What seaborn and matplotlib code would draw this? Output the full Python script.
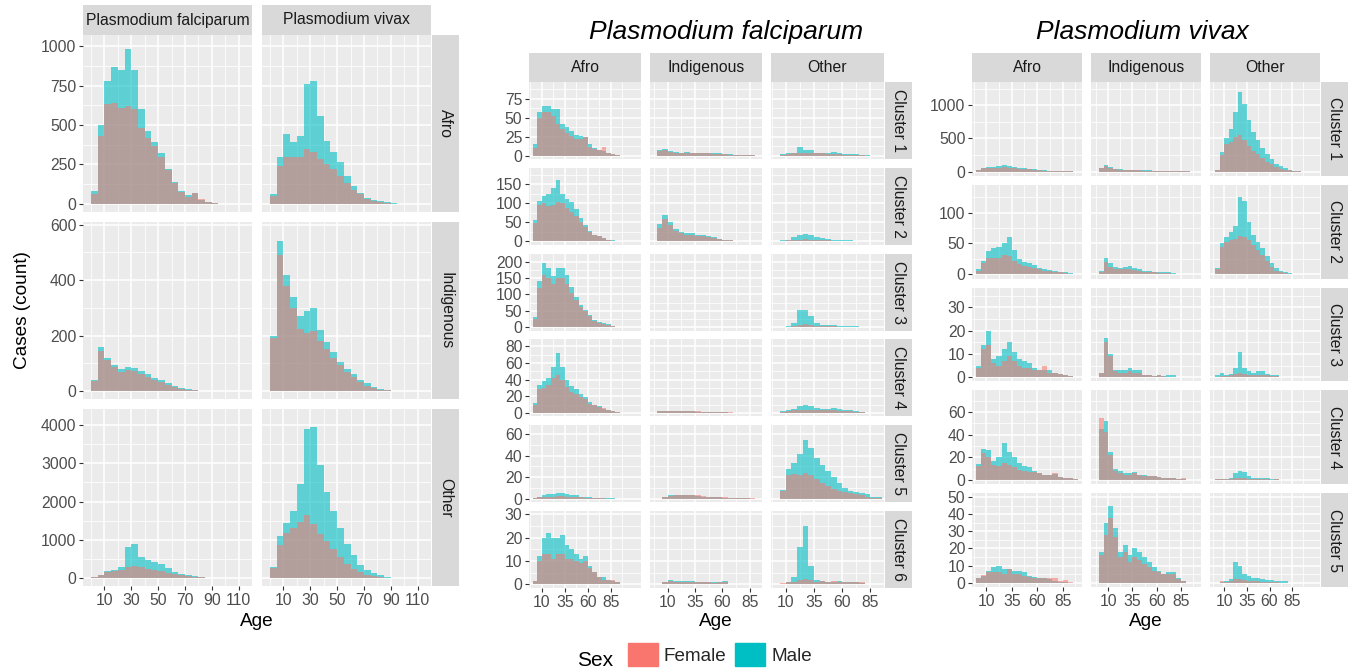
import pandas as pd
import seaborn as sns
import matplotlib.pyplot as plt
from matplotlib.patches import Patch

# start of each 5-year age group (bar heights = cases per single year of age)
age_start = [0, 5, 10, 15, 20, 25, 30, 35, 40, 45, 50, 55, 60, 65, 70, 75, 80, 85, 90, 95, 100]
age_edges = age_start + [105]

species = ['Plasmodium falciparum', 'Plasmodium vivax']
ethnicity = ['Afro', 'Indigenous', 'Other']
pf_clusters = ['Cluster 1', 'Cluster 2', 'Cluster 3', 'Cluster 4', 'Cluster 5', 'Cluster 6']
pv_clusters = ['Cluster 1', 'Cluster 2', 'Cluster 3', 'Cluster 4', 'Cluster 5']
sexes = ['Female', 'Male']

# ---- left block: species x ethnicity ----
a_pf_afro_f = [60, 430, 630, 640, 610, 620, 600, 480, 420, 370, 300, 215, 135, 75, 45, 70, 30, 15, 5, 2]
a_pf_afro_m = [80, 500, 780, 870, 850, 980, 850, 600, 460, 390, 320, 220, 140, 80, 55, 70, 25, 10, 3, 1]
a_pv_afro_f = [50, 240, 300, 295, 300, 350, 330, 285, 255, 220, 175, 130, 90, 60, 32, 20, 12, 6, 2, 1]
a_pv_afro_m = [60, 300, 440, 390, 430, 760, 780, 560, 400, 330, 265, 180, 115, 72, 40, 27, 17, 10, 4, 1]
a_pf_ind_f = [35, 145, 110, 85, 70, 75, 72, 62, 52, 40, 32, 22, 15, 8, 5, 3, 1, 0.5]
a_pf_ind_m = [40, 160, 120, 95, 78, 85, 82, 72, 62, 48, 40, 28, 18, 10, 6, 3, 1, 0.5]
a_pv_ind_f = [190, 490, 380, 300, 225, 210, 215, 180, 150, 120, 95, 70, 52, 32, 18, 10, 4, 2, 1]
a_pv_ind_m = [200, 540, 420, 340, 270, 290, 300, 220, 175, 140, 105, 80, 62, 40, 28, 16, 7, 3, 1]
a_pf_oth_f = [15, 80, 160, 170, 210, 290, 320, 290, 230, 200, 170, 130, 100, 70, 45, 30, 18, 8, 3, 1]
a_pf_oth_m = [20, 90, 170, 200, 290, 820, 900, 560, 460, 420, 370, 250, 160, 110, 70, 45, 25, 12, 5, 2]
a_pv_oth_f = [260, 860, 1180, 1320, 1460, 1660, 1420, 1160, 980, 760, 550, 370, 240, 155, 90, 55, 30, 12, 5, 2]
a_pv_oth_m = [300, 1100, 1440, 1750, 2450, 3900, 3950, 2950, 2250, 1750, 1300, 900, 590, 350, 200, 125, 70, 30, 12, 4]

# ---- middle block: P. falciparum, cluster x ethnicity ----
b_c1_afro_f = [10, 50, 58, 58, 52, 42, 35, 30, 26, 22, 22, 24, 12, 9, 8, 12, 4, 2, 1]
b_c1_afro_m = [15, 58, 66, 65, 62, 62, 42, 38, 32, 27, 26, 24, 15, 10, 8, 6, 4, 2, 1]
b_c1_ind_f = [6, 7, 5, 4, 4, 4, 3, 4, 3, 3, 2, 2, 2, 1, 1, 0.5, 0.5, 0.5]
b_c1_ind_m = [8, 9, 6, 5, 4, 5, 4, 4, 4, 3, 3, 3, 2, 2, 1, 1, 1, 0.5]
b_c1_oth_f = [0, 1, 2, 3, 4, 4, 3, 3, 3, 2, 2, 2, 1, 1, 0.5, 0.5, 0]
b_c1_oth_m = [0, 2, 3, 4, 12, 8, 7, 4, 3, 3, 5, 3, 2, 2, 2, 1.5, 1]

b_c2_afro_f = [48, 95, 100, 92, 96, 104, 100, 88, 78, 66, 52, 38, 25, 16, 15, 10, 5, 2, 1]
b_c2_afro_m = [55, 105, 118, 125, 140, 160, 125, 112, 104, 85, 62, 44, 27, 17, 15, 10, 5, 3, 1]
b_c2_ind_f = [35, 58, 42, 26, 21, 18, 16, 15, 14, 12, 10, 6, 4, 3, 1, 1]
b_c2_ind_m = [45, 70, 50, 33, 25, 22, 21, 17, 16, 14, 11, 7, 5, 3, 2, 1]
b_c2_oth_f = [1, 2, 3, 4, 5, 6, 5, 4, 3, 3, 2, 2, 2, 1, 1, 0.5, 0]
b_c2_oth_m = [1, 3, 4, 11, 17, 20, 18, 12, 8, 7, 5, 4, 4, 3, 2, 1, 1]

b_c3_afro_f = [25, 120, 160, 150, 132, 150, 150, 132, 104, 82, 62, 48, 34, 20, 12, 10, 8, 4, 2]
b_c3_afro_m = [30, 140, 195, 180, 155, 180, 182, 160, 124, 93, 68, 53, 38, 23, 15, 12, 9, 4, 2]
b_c3_ind_f = [0, 2, 2, 2, 2, 2, 2, 2, 2, 2, 1.5, 1.5, 1.5, 1, 1, 1, 1, 1, 1]
b_c3_ind_m = [0, 2, 2, 2, 2, 2, 2, 2, 2, 2, 2, 1.5, 1.5, 1, 1, 1, 1, 1, 1]
b_c3_oth_f = [0, 1, 2, 4, 8, 9, 7, 4, 3, 3, 3, 2, 2, 2, 1, 1, 1, 0.5, 0.5]
b_c3_oth_m = [0, 2, 3, 12, 52, 52, 35, 12, 8, 6, 6, 5, 4, 3, 3, 2, 2, 1, 1]

b_c4_afro_f = [9, 29, 30, 34, 42, 46, 39, 31, 25, 23, 19, 17, 11, 9, 7, 6, 4, 2, 1]
b_c4_afro_m = [12, 33, 38, 42, 55, 72, 55, 40, 32, 29, 23, 19, 13, 9, 8, 5, 4, 2, 1]
b_c4_ind_f = [2.5, 2.5, 2.5, 2.5, 2.5, 2, 2, 2, 1.5, 1.5, 1.5, 1, 1, 1, 0.5, 0.5]
b_c4_ind_m = [2, 2, 2, 2, 2, 2, 2, 1.5, 1.5, 1.5, 1, 1, 1, 0.5, 0.5]
b_c4_oth_f = [0, 1, 2, 3, 4, 4, 4, 3, 3, 3, 3, 2, 2, 2, 1, 1]
b_c4_oth_m = [0, 2, 3, 5, 8, 10, 8, 6, 5, 5, 6, 5, 4, 3, 2, 1]

b_c5_afro_f = [1, 1.5, 2, 2, 2, 2.5, 2.5, 2, 2, 1.5, 1.5, 1, 1, 1, 0.5, 0.5]
b_c5_afro_m = [1, 2, 3, 4, 4, 5, 5, 4, 3, 3, 2, 2, 1.5, 1, 1, 1, 0.5, 0.5]
b_c5_ind_f = [0, 2, 2.5, 3, 3, 3, 3, 3, 2.5, 2, 2, 2, 1.5, 1, 0.5, 0.5, 0.5, 1]
b_c5_ind_m = [0, 2, 3, 3, 3, 3, 3, 2.5, 2, 2, 2, 1.5, 1, 1, 0.5, 0.5, 0.5]
b_c5_oth_f = [0, 7, 22, 23, 22, 24, 22, 18, 15, 12, 9, 7, 6, 5, 4, 3, 2, 1, 1]
b_c5_oth_m = [0, 8, 28, 33, 42, 55, 47, 38, 31, 26, 20, 15, 10, 7, 6, 5, 4, 2, 2]

b_c6_afro_f = [1.5, 10, 13, 13, 11, 13, 13, 11, 11, 10, 9, 10, 7, 5.5, 3, 2, 2, 2, 1]
b_c6_afro_m = [1.5, 12, 20, 22, 20, 20, 21, 17, 15, 13, 11, 12, 8, 5.5, 3, 3, 2, 1.5, 1]
b_c6_ind_f = [0, 1, 1.5, 1, 1, 1, 1, 1, 1, 1, 0.5, 1, 1]
b_c6_ind_m = [0, 1, 2, 1.5, 1.5, 1.5, 1.5, 1, 1, 1, 1, 1, 1.5]
b_c6_oth_f = [0, 0.5, 1, 1, 2, 2.5, 2, 1, 1.5, 1, 1.5, 1, 1, 1, 1, 1]
b_c6_oth_m = [0, 0, 1, 3, 16, 25, 8, 2, 1.5, 1, 1, 1.5, 1, 1, 1, 0.5]

# ---- right block: P. vivax, cluster x ethnicity ----
c_c1_afro_f = [25, 50, 55, 55, 60, 62, 60, 52, 45, 40, 32, 26, 20, 15, 10, 6, 4, 2, 1]
c_c1_afro_m = [30, 55, 65, 70, 85, 95, 90, 70, 58, 50, 40, 32, 24, 18, 12, 8, 5, 3, 1]
c_c1_ind_f = [55, 90, 55, 38, 28, 25, 23, 20, 18, 16, 14, 12, 10, 8, 6, 4, 2, 1, 1]
c_c1_ind_m = [60, 100, 65, 45, 35, 30, 28, 25, 22, 20, 18, 15, 12, 10, 8, 5, 3, 2, 1]
c_c1_oth_f = [25, 250, 410, 450, 520, 550, 470, 380, 310, 260, 200, 150, 110, 70, 45, 28, 18, 8, 4]
c_c1_oth_m = [30, 300, 500, 640, 900, 1200, 1020, 780, 600, 470, 360, 270, 190, 120, 80, 50, 28, 14, 6]

c_c2_afro_f = [6, 18, 26, 26, 26, 32, 30, 22, 17, 14, 12, 10, 8, 6, 5, 4, 3, 2, 1]
c_c2_afro_m = [8, 22, 38, 42, 45, 50, 60, 40, 25, 20, 18, 15, 11, 9, 7, 5, 4, 3, 2]
c_c2_ind_f = [4, 20, 12, 9, 8, 8, 8, 7, 6, 4, 4, 3, 2, 2, 2, 1, 1, 0.5]
c_c2_ind_m = [6, 26, 18, 12, 11, 12, 14, 10, 8, 6, 5, 4, 4, 3, 3, 2, 1, 1]
c_c2_oth_f = [8, 45, 52, 55, 58, 62, 60, 55, 48, 40, 32, 22, 12, 6, 4, 2, 1, 1, 0]
c_c2_oth_m = [10, 50, 60, 68, 78, 125, 118, 85, 64, 52, 42, 30, 18, 10, 6, 3, 2, 1, 1]

c_c3_afro_f = [4, 12, 14, 6, 5, 7, 9, 7, 5, 4, 4, 3, 3, 5, 2, 2, 1.5, 1, 0.5]
c_c3_afro_m = [5, 14, 20, 8, 9, 12, 15, 11, 8, 7, 6, 4, 3, 3, 3, 2, 1.5, 1, 0.5]
c_c3_ind_f = [2, 15, 9, 2.5, 2, 2, 2.5, 2, 2, 1, 1, 0.5, 1, 0.5]
c_c3_ind_m = [2, 17, 10, 3, 3, 3, 4, 3, 3, 1, 1, 0.5, 1, 0.5, 1, 1]
c_c3_oth_f = [0, 0.5, 0.5, 1, 1.5, 2, 1.5, 1, 1, 1, 1, 1, 0.5, 0.5]
c_c3_oth_m = [1, 2, 1, 1.5, 4, 11, 4, 2.5, 2, 2.5, 2.5, 1.5, 1, 1]

c_c4_afro_f = [12, 24, 20, 13, 12, 15, 13, 11, 9, 8, 7, 7, 6, 4, 4, 6, 2.5, 1.5, 1.5, 1]
c_c4_afro_m = [14, 27, 26, 17, 20, 33, 25, 20, 15, 12, 11, 8, 6, 4, 4, 5, 2.5, 1.5, 1.5, 1]
c_c4_ind_f = [55, 42, 22, 8, 6, 4.5, 4.5, 6, 4, 3.5, 3, 3, 2.5, 2, 2, 1.5, 1, 1.5]
c_c4_ind_m = [45, 52, 25, 10, 8, 6, 6, 7, 4, 4, 3, 3, 2.5, 2, 2, 1.5, 1, 1]
c_c4_oth_f = [0.5, 1, 0.5, 1, 1.5, 2, 1.5, 1, 1, 1, 0.5, 0.5, 0, 0.5]
c_c4_oth_m = [1, 1, 0.5, 2, 6, 8, 7, 3, 2, 2, 2, 1.5, 1, 1]

c_c5_afro_f = [3, 4.5, 6, 6, 6, 5, 8, 5, 5, 4, 3.5, 3, 2.5, 3, 3, 2.5, 1, 1.5, 0.5]
c_c5_afro_m = [3, 4, 7, 9, 10, 8, 8, 7, 7, 6, 4, 3.5, 2.5, 3, 2, 1, 0.5, 0.5]
c_c5_ind_f = [16, 28, 38, 27, 15, 18, 12, 15, 13, 11, 9, 7, 6, 5, 5, 5, 2, 1]
c_c5_ind_m = [18, 35, 45, 32, 18, 22, 16, 20, 18, 15, 12, 9, 7, 5, 6, 6, 3, 1]
c_c5_oth_f = [0, 1, 0.5, 1, 2, 2, 1.5, 1, 1, 1, 0.5, 0.5, 0.5, 0.5]
c_c5_oth_m = [0, 0.5, 1, 2, 12, 10, 5, 4, 3, 2.5, 2, 1.5, 1.5, 1, 1, 1]

FEMALE = '#F8766D'
MALE = '#00BFC4'

sns.set_theme(style='darkgrid', rc={'axes.facecolor': '#EBEBEB', 'grid.color': 'white',
                                    'figure.facecolor': 'white'})
plt.rcParams['font.family'] = ['Liberation Sans', 'DejaVu Sans']

W, H = 1353, 671
fig = plt.figure(figsize=(W / 100, H / 100), dpi=100)


def box(x0, y0, x1, y1):
    # pixel box (top-left origin) -> figure rect
    return [x0 / W, 1 - y1 / H, (x1 - x0) / W, (y1 - y0) / H]


def minor_of(major, lim):
    step = major[1] - major[0]
    ext = [major[0] - step] + list(major) + [major[-1] + step]
    mids = [(a + b) / 2 for a, b in zip(ext[:-1], ext[1:])]
    return [m for m in mids if lim[0] < m < lim[1]]


def draw(ax, fem, male):
    for vals, col, alpha in [(male, MALE, 0.6), (fem, FEMALE, 0.55)]:
        df = pd.DataFrame({'age': age_start[:len(vals)], 'n': vals})
        sns.histplot(data=df, x='age', weights='n', bins=age_edges, color=col,
                     alpha=alpha, linewidth=0, ax=ax)


def style(ax, xlim, ylim, xt, yt, left, bottom):
    ax.set_xlim(xlim)
    ax.set_ylim(ylim)
    ax.set_xticks(xt, labels=[str(v) for v in xt])
    ax.set_yticks(yt, labels=[str(v) for v in yt])
    ax.set_xticks(minor_of(xt, xlim), minor=True)
    ax.set_yticks(minor_of(yt, ylim), minor=True)
    ax.grid(which='major', color='white', linewidth=1.1)
    ax.grid(which='minor', color='white', linewidth=0.55)
    ax.set_axisbelow(True)
    ax.tick_params(which='minor', length=0)
    ax.tick_params(which='major', length=2.75, width=0.8, color='#333333', labelsize=11.3,
                   labelcolor='#4D4D4D', pad=2, left=left, labelleft=left,
                   bottom=bottom, labelbottom=bottom)
    for s in ax.spines.values():
        s.set_visible(False)
    ax.set_xlabel('')
    ax.set_ylabel('')


def strip(rect, text, rot):
    ax = fig.add_axes(rect)
    ax.set_facecolor('#D9D9D9')
    ax.grid(False)
    ax.set_xticks([])
    ax.set_yticks([])
    for s in ax.spines.values():
        s.set_visible(False)
    ax.text(0.5, 0.5, text, rotation=rot, ha='center', va='center', fontsize=11.3,
            color='#1A1A1A', transform=ax.transAxes)


def facet_block(cells, cols_px, row_top, row_bot, gap, strip_top, col_names, row_names,
                xlims, ylims, xticks, yticks):
    nrow = len(row_names)
    h = (row_bot - row_top - gap * (nrow - 1)) / nrow
    for i in range(nrow):
        y0 = row_top + i * (h + gap)
        for j, (x0, x1) in enumerate(cols_px):
            ax = fig.add_axes(box(x0, y0, x1, y0 + h))
            draw(ax, *cells[i][j])
            style(ax, xlims[j], ylims[i], xticks, yticks[i], j == 0, i == nrow - 1)
        xr = cols_px[-1][1]
        strip(box(xr + 1, y0, xr + 28, y0 + h), row_names[i], -90)
    for j, (x0, x1) in enumerate(cols_px):
        strip(box(x0, strip_top, x1, row_top), col_names[j], 0)


# left block
facet_block(
    [[(a_pf_afro_f, a_pf_afro_m), (a_pv_afro_f, a_pv_afro_m)],
     [(a_pf_ind_f, a_pf_ind_m), (a_pv_ind_f, a_pv_ind_m)],
     [(a_pf_oth_f, a_pf_oth_m), (a_pv_oth_f, a_pv_oth_m)]],
    [(83, 252), (262, 431)], 35, 586, 10, 5, species, ethnicity,
    [(-6, 120), (-6, 120)],
    [(-51, 1070), (-29, 610), (-210, 4420)],
    [10, 30, 50, 70, 90, 110],
    [[0, 250, 500, 750, 1000], [0, 200, 400, 600], [0, 1000, 2000, 3000, 4000]])

# middle block
facet_block(
    [[(b_c1_afro_f, b_c1_afro_m), (b_c1_ind_f, b_c1_ind_m), (b_c1_oth_f, b_c1_oth_m)],
     [(b_c2_afro_f, b_c2_afro_m), (b_c2_ind_f, b_c2_ind_m), (b_c2_oth_f, b_c2_oth_m)],
     [(b_c3_afro_f, b_c3_afro_m), (b_c3_ind_f, b_c3_ind_m), (b_c3_oth_f, b_c3_oth_m)],
     [(b_c4_afro_f, b_c4_afro_m), (b_c4_ind_f, b_c4_ind_m), (b_c4_oth_f, b_c4_oth_m)],
     [(b_c5_afro_f, b_c5_afro_m), (b_c5_ind_f, b_c5_ind_m), (b_c5_oth_f, b_c5_oth_m)],
     [(b_c6_afro_f, b_c6_afro_m), (b_c6_ind_f, b_c6_ind_m), (b_c6_oth_f, b_c6_oth_m)]],
    [(529, 641), (650, 762), (771, 884)], 82, 588, 8.6, 53, ethnicity, pf_clusters,
    [(-4, 118), (-6, 96), (-3, 97)],
    [(-4.6, 97), (-9.2, 193), (-10.7, 225), (-4.2, 88.4), (-3.3, 68.5), (-1.5, 31.5)],
    [10, 35, 60, 85],
    [[0, 25, 50, 75], [0, 50, 100, 150], [0, 50, 100, 150, 200], [0, 20, 40, 60, 80],
     [0, 20, 40, 60], [0, 10, 20, 30]])

# right block
facet_block(
    [[(c_c1_afro_f, c_c1_afro_m), (c_c1_ind_f, c_c1_ind_m), (c_c1_oth_f, c_c1_oth_m)],
     [(c_c2_afro_f, c_c2_afro_m), (c_c2_ind_f, c_c2_ind_m), (c_c2_oth_f, c_c2_oth_m)],
     [(c_c3_afro_f, c_c3_afro_m), (c_c3_ind_f, c_c3_ind_m), (c_c3_oth_f, c_c3_oth_m)],
     [(c_c4_afro_f, c_c4_afro_m), (c_c4_ind_f, c_c4_ind_m), (c_c4_oth_f, c_c4_oth_m)],
     [(c_c5_afro_f, c_c5_afro_m), (c_c5_ind_f, c_c5_ind_m), (c_c5_oth_f, c_c5_oth_m)]],
    [(972, 1082), (1091, 1201), (1210, 1320)], 82, 587, 9, 53, ethnicity, pv_clusters,
    [(-4, 104), (-8, 106), (-6, 116)],
    [(-64, 1352), (-6.9, 145), (-1.8, 38.5), (-3.8, 79), (-2.5, 52.3)],
    [10, 35, 60, 85],
    [[0, 500, 1000], [0, 50, 100], [0, 10, 20, 30], [0, 20, 40, 60], [0, 10, 20, 30, 40, 50]])

# titles and axis titles
fig.text(726 / W, 1 - 32 / H, 'Plasmodium falciparum', ha='center', va='center',
         fontsize=19, style='italic', color='black')
fig.text(1142 / W, 1 - 32 / H, 'Plasmodium vivax', ha='center', va='center',
         fontsize=19, style='italic', color='black')
fig.text(23 / W, 1 - 310 / H, 'Cases (count)', rotation=90, ha='center', va='center',
         fontsize=13.7, color='black')
for x in [257, 716, 1146]:
    fig.text(x / W, 1 - 622 / H, 'Age', ha='center', va='center', fontsize=13.7, color='black')

# legend
fig.text(595 / W, 1 - 661 / H, 'Sex', ha='center', va='center', fontsize=15, color='black')
fig.legend(handles=[Patch(color=FEMALE), Patch(color=MALE)], labels=sexes, ncol=2,
           loc='upper left', bbox_to_anchor=(628 / W, 1 - 643 / H), frameon=False,
           borderpad=0, borderaxespad=0, handlelength=1.6, handleheight=1.5,
           handletextpad=0.3, columnspacing=0.45, fontsize=13.6)

fig.savefig('out.png', dpi=100)
